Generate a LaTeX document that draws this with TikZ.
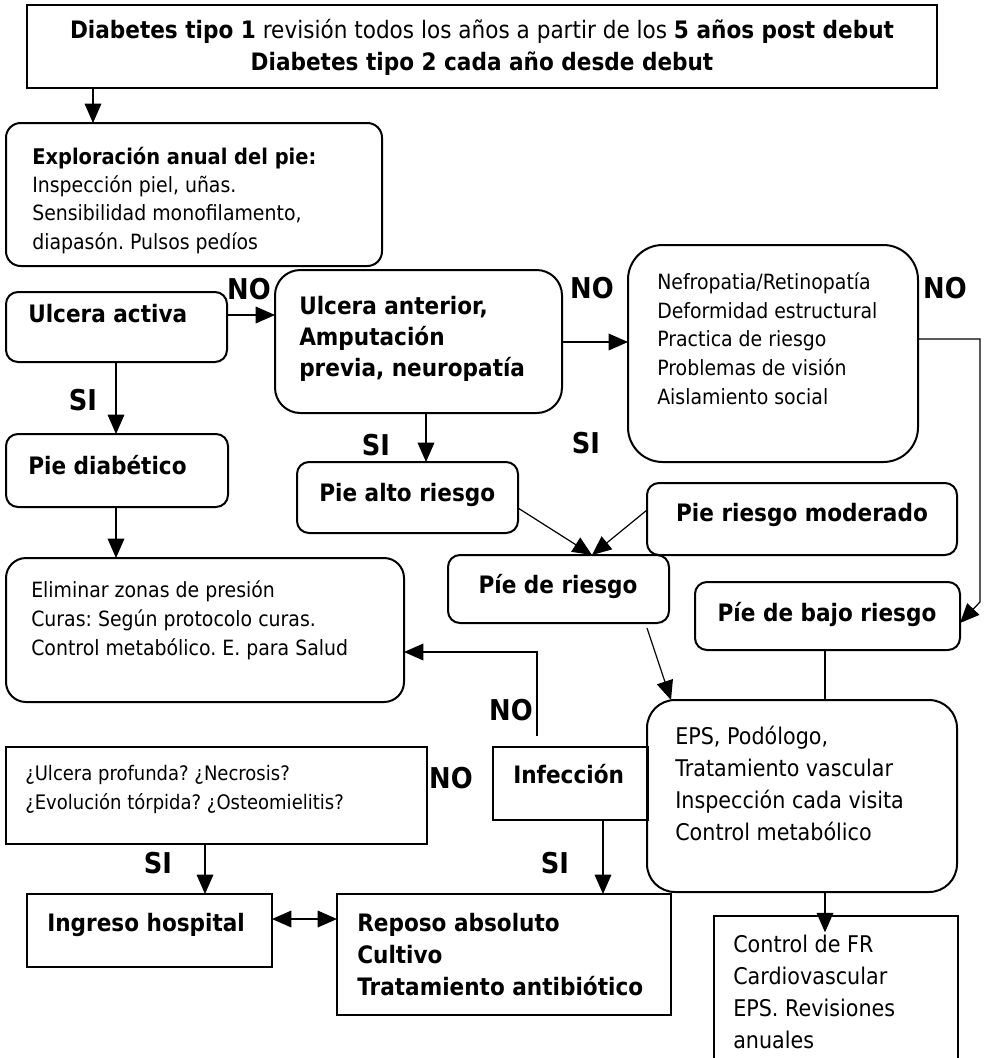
\documentclass[tikz,border=0pt]{standalone}
\usepackage{fontspec}
\setmainfont{DejaVu Sans}[FakeStretch=0.9]
\usetikzlibrary{arrows.meta,calc}
\frenchspacing
\newcommand\bx[6]{\node[#6, minimum width={(#4-#2)*0.75pt}, minimum height={(#5-#3)*0.75pt}] (#1) at ({(#2+#4)/2},{(#3+#5)/2}) {};}
\begin{document}
\frenchspacing
\begin{tikzpicture}[x=0.75pt,y=-0.75pt,
  sbox/.style={draw=black, line width=1.5pt, inner sep=0pt, outer sep=0pt},
  rbox/.style={sbox, rounded corners=#1},
  arr/.style={draw=black, line width=0.9pt, -{Triangle[length=14.5pt,width=12.5pt]}},
  darr/.style={draw=black, line width=0.9pt, {Triangle[length=14.5pt,width=12.5pt]}-{Triangle[length=14.5pt,width=12.5pt]}},
  lab/.style={font=\fontsize{21.5}{24}\selectfont\bfseries, inner sep=0pt},
  tx/.style={anchor=base west, align=left, inner sep=0pt},
  bt/.style={font=\fontsize{18}{24}\selectfont\bfseries},
]
\useasboundingbox (0,0) rectangle (983,1058);
\fill[white] (0,0) rectangle (983,1058);
\clip (0,0) rectangle (983,1058);

% boxes
\bx{T}{27}{5}{937}{88}{sbox}
\bx{E}{6}{123}{382}{266}{rbox=11pt}
\bx{UA}{6}{292}{227}{362}{rbox=9pt}
\bx{UN}{275}{270}{562}{413}{rbox=19pt}
\bx{NF}{628}{245}{918}{462}{rbox=26pt}
\bx{PD}{6}{434}{228}{507}{rbox=9pt}
\bx{EL}{6}{558}{404}{702}{rbox=15pt}
\bx{PA}{297}{462}{518}{533}{rbox=9pt}
\bx{PM}{647}{483}{957}{555}{rbox=9pt}
\bx{PR}{448}{555}{669}{623}{rbox=9pt}
\bx{PB}{695}{582}{960}{650}{rbox=9pt}
\bx{IN}{493}{747}{648}{820}{sbox}
\bx{EP}{647}{700}{957}{892}{rbox=21pt}
\bx{UP}{6}{747}{427}{844}{sbox}
\bx{IH}{27}{894}{272}{967}{sbox}
\bx{RA}{337}{894}{671}{1015}{sbox}
\node[draw=black, line width=1.1pt, inner sep=0pt, minimum width={(958-714)*0.75pt}, minimum height={(1080-916)*0.75pt}] (CF) at ({(714+958)/2},{(916+1080)/2}) {};

% texts (anchor base = baseline of the last line)
\node[anchor=base, align=center, inner sep=0pt, font=\fontsize{18}{24}\selectfont] (Tt) at (482,70)
  {{\bfseries Diabetes tipo 1} revisión todos los años a partir de los {\bfseries 5 años post debut}\\
   {\bfseries Diabetes tipo 2 cada año desde debut}};
\node[tx, font=\fontsize{15.75}{21.2}\selectfont] (Et) at (32,249)
  {{\fontsize{16.2}{21.2}\selectfont\bfseries Exploración anual del pie:}\\Inspección piel, uñas.\\Sensibilidad monofilamento,\\diapasón. Pulsos pedíos};
\node[tx, bt] (UAt) at (28,322) {Ulcera activa};
\node[tx, font=\fontsize{18}{22.9}\selectfont\bfseries] (UNt) at (299,376) {Ulcera anterior,\\Amputación\\previa, neuropatía};
\node[tx, font=\fontsize{15.75}{21.4}\selectfont] (NFt) at (657,404)
  {Nefropatia/Retinopatía\\Deformidad estructural\\Practica de riesgo\\Problemas de visión\\Aislamiento social};
\node[tx, bt] (PDt) at (28,474) {Pie diabético};
\node[tx, font=\fontsize{15.75}{21.4}\selectfont] (ELt) at (31,655)
  {Eliminar zonas de presión\\Curas: Según protocolo curas.\\Control metabólico. E. para Salud};
\node[tx, bt] (PAt) at (319,501) {Pie alto riesgo};
\node[anchor=base, inner sep=0pt, bt] (PMt) at (802,521) {Pie riesgo moderado};
\node[anchor=base, inner sep=0pt, bt] (PRt) at (558,593) {Píe de riesgo};
\node[anchor=base, inner sep=0pt, bt] (PBt) at (827,621) {Píe de bajo riesgo};
\node[tx, font=\fontsize{17.25}{23.8}\selectfont] (EPt) at (675,840)
  {EPS, Podólogo,\\Tratamiento vascular\\Inspección cada visita\\Control metabólico};
\node[tx, bt] (INt) at (513,783) {Infección};
\node[tx, font=\fontsize{15}{21.75}\selectfont] (UPt) at (25,809)
  {¿Ulcera profunda? ¿Necrosis?\\¿Evolución tórpida? ¿Osteomielitis?};
\node[tx, bt] (IHt) at (47,931) {Ingreso hospital};
\node[tx, font=\fontsize{18}{24}\selectfont\bfseries] (RAt) at (357,995) {Reposo absoluto\\Cultivo\\Tratamiento antibiótico};
\node[tx, font=\fontsize{17.25}{23.8}\selectfont] (CFt) at (733,1048)
  {Control de FR\\Cardiovascular\\EPS. Revisiones\\anuales};

% labels
\node[lab] (no1) at (249,289) {NO};
\node[lab] (no2) at (592,288) {NO};
\node[lab] (no3) at (945,288) {NO};
\node[lab] (si1) at (83,400) {SI};
\node[lab] (si2) at (376,445) {SI};
\node[lab] (si3) at (586,443) {SI};
\node[lab] (no4) at (511,710) {NO};
\node[lab] (no5) at (451,778) {NO};
\node[lab] (si4) at (158,863) {SI};
\node[lab] (si5) at (555,863) {SI};

% connectors
\draw[arr] (93,0 |- T.south) -- (93,0 |- E.north);
\draw[arr] (UA.east |- 0,315) -- (UN.west |- 0,315);
\draw[arr] (UN.east |- 0,342) -- (NF.west |- 0,342);
\draw[arr] (NF.east |- 0,339) -- (980,339) -- (980,602) -- (PB.east |- 0,623);
\draw[arr] (116,0 |- UA.south) -- (116,0 |- PD.north);
\draw[arr] (116,0 |- PD.south) -- (116,0 |- EL.north);
\draw[arr] (426,0 |- UN.south) -- (426,0 |- PA.north);
\draw[arr] (PA.east |- 0,508) -- (592,0 |- PR.north);
\draw[arr] (PM.west |- 0,510) -- (592,0 |- PR.north);
\draw[line width=0.9pt] (825,0 |- PB.south) -- (825,0 |- EP.north);
\draw[arr] ($(647,0 |- PR.south)+(0,5)$) -- (671,0 |- EP.north);
\draw[arr] ($(537,0 |- IN.north)+(0,-11)$) |- (EL.east |- 0,652);
\draw[arr] (205,0 |- UP.south) -- (205,0 |- IH.north);
\draw[arr] (603,0 |- IN.south) -- (603,0 |- RA.north);
\draw[darr] (IH.east |- 0,919) -- (RA.west |- 0,919);
\draw[arr] (825,0 |- EP.south) -- ($(825,0 |- CF.north)+(0,17)$);
\end{tikzpicture}
\end{document}
